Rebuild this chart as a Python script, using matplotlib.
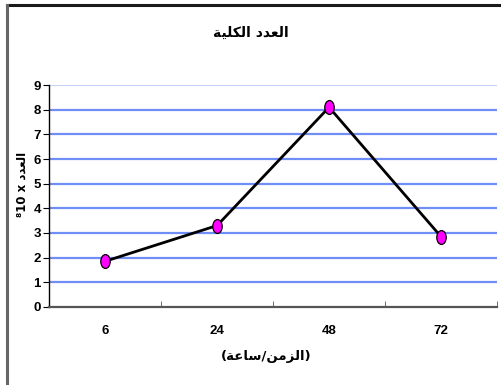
import numpy as np
import matplotlib
matplotlib.use('Agg')
import matplotlib.pyplot as plt
from matplotlib.path import Path
from matplotlib.transforms import Affine2D

# data
hours = ['6', '24', '48', '72']
counts = [1.85, 3.3, 8.1, 2.85]
y_ticks = [0, 1, 2, 3, 4, 5, 6, 7, 8, 9]

title_txt = 'العدد الكلية'
xlabel_txt = '(الزمن/ساعة)'
ylabel_txt = 'العدد'

# tiny arabic shaper (matplotlib does no shaping)
FORMS = {
    'ا': ('\uFE8D', '\uFE8E', None, None),
    'ل': ('\uFEDD', '\uFEDE', '\uFEDF', '\uFEE0'),
    'ع': ('\uFEC9', '\uFECA', '\uFECB', '\uFECC'),
    'د': ('\uFEA9', '\uFEAA', None, None),
    'ك': ('\uFED9', '\uFEDA', '\uFEDB', '\uFEDC'),
    'ي': ('\uFEF1', '\uFEF2', '\uFEF3', '\uFEF4'),
    'ة': ('\uFE93', '\uFE94', None, None),
    'ز': ('\uFEAF', '\uFEB0', None, None),
    'م': ('\uFEE1', '\uFEE2', '\uFEE3', '\uFEE4'),
    'ن': ('\uFEE5', '\uFEE6', '\uFEE7', '\uFEE8'),
    'س': ('\uFEB1', '\uFEB2', '\uFEB3', '\uFEB4'),
}


def shape(s):
    out = []
    for i, c in enumerate(s):
        if c not in FORMS:
            out.append(c)
            continue
        f = FORMS[c]
        prev = s[i - 1] if i > 0 else ''
        nxt = s[i + 1] if i + 1 < len(s) else ''
        jp = prev in FORMS and FORMS[prev][2] is not None
        jn = nxt in FORMS and f[2] is not None
        if jp and jn:
            out.append(f[3])
        elif jp:
            out.append(f[1])
        elif jn:
            out.append(f[2])
        else:
            out.append(f[0])
    vis = ''.join(out)[::-1]
    return vis.translate(str.maketrans('()', ')('))


num_font = ['Liberation Sans Narrow', 'Liberation Sans', 'DejaVu Sans']
ar_font = ['DejaVu Sans']

fig = plt.figure(figsize=(5.02, 3.85), dpi=100)
# partial outer frame (top and left)
fig.add_artist(plt.Line2D([0.014, 1.0], [0.987, 0.987], color='#1a1a1a', lw=2.2))
fig.add_artist(plt.Line2D([0.014, 0.014], [0.0, 0.987], color='#666666', lw=2.2))

ax = fig.add_axes([0.098, 0.203, 0.892, 0.576])

x = np.arange(len(hours))
ax.set_xlim(-0.5, len(hours) - 0.5)
ax.set_ylim(0, 9)

for v in y_ticks[1:]:
    c = '#c8d4f8' if v == 9 else '#6f8ff7'
    ax.axhline(v, color=c, lw=1.6, zorder=1)

ell = Path.unit_circle().transformed(Affine2D().scale(0.68, 1.0))
ax.plot(x, counts, color='black', lw=2.0, zorder=3)
ax.plot(x, counts, ls='none', marker=ell, ms=10, mfc='#ff00ff', mec='black', mew=0.9, zorder=4)

for s in ['top', 'right']:
    ax.spines[s].set_visible(False)
ax.spines['left'].set_color('black')
ax.spines['bottom'].set_color('#555555')
ax.spines['left'].set_linewidth(1.0)
ax.spines['bottom'].set_linewidth(1.6)

ax.set_yticks(y_ticks)
ax.set_yticklabels([str(v) for v in y_ticks], fontfamily=num_font, fontweight='bold', fontsize=9.5)
ax.set_xticks(x)
ax.set_xticklabels(hours, fontfamily=num_font, fontweight='bold', fontsize=9.5)
ax.set_xticks(np.arange(len(hours) + 1) - 0.5, minor=True)
ax.tick_params(axis='x', which='major', length=0, pad=13)
ax.tick_params(axis='x', which='minor', length=4, direction='in', color='#555555')
ax.tick_params(axis='y', length=4, direction='out', pad=2)

fig.text(0.5, 0.915, shape(title_txt), ha='center', va='center', fontsize=10, fontweight='heavy', family=ar_font)
fig.text(0.53, 0.073, shape(xlabel_txt), ha='center', va='center', fontsize=9.5, fontweight='heavy', family=ar_font)
fig.text(0.045, 0.52, '\u207810 x ' + shape(ylabel_txt), ha='center', va='center', rotation=90,
         fontsize=8.5, fontweight='bold', family=ar_font)

fig.savefig('out.png', dpi=100)
